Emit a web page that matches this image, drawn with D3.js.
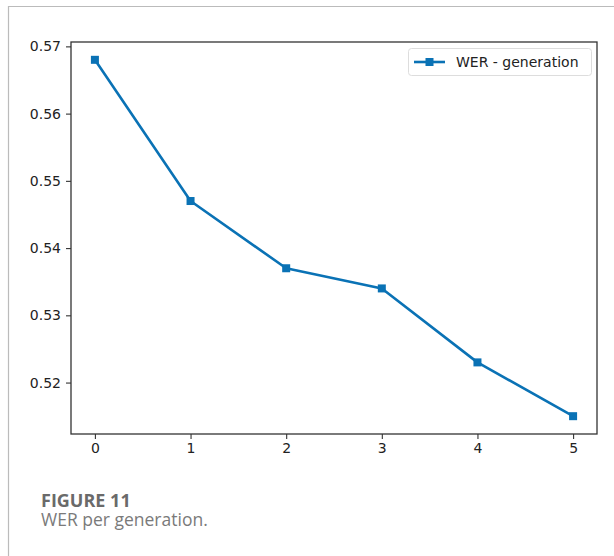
<!DOCTYPE html>
<html>
<head>
<meta charset="utf-8">
<script src="https://cdn.jsdelivr.net/npm/d3@7"></script>
<style>
	body { margin: 0; background: #fff; }
	svg { display: block; }
</style>
</head>
<body>
<main></main>
<script>
const generations = [0, 1, 2, 3, 4, 5]
const wer = [0.568, 0.547, 0.537, 0.534, 0.523, 0.515]
const yTicks = [0.52, 0.53, 0.54, 0.55, 0.56, 0.57]
const seriesName = 'WER - generation'
const captionTitle = 'FIGURE 11'
const captionText = 'WER per generation.'

const width = 614
const height = 556
const margin = { top: 42, right: 17, bottom: 122, left: 71 }
const color = '#0a72b5'
const axisColor = '#333'

const svg = d3.select('main')
	.append('svg')
	.attr('width', width)
	.attr('height', height)

// Frame around figure
svg.append('path')
	.attr('d', `M8.5,${height} V6.5 H${width}`)
	.attr('fill', 'none')
	.attr('stroke', '#bbb')
	.attr('stroke-width', 1.2)

// Scales (matplotlib style 5% padding)
const xScale = d3.scaleLinear()
	.domain([-0.25, 5.25])
	.range([margin.left, width - margin.right])

const yMin = d3.min(wer), yMax = d3.max(wer)
const pad = (yMax - yMin) * 0.05
const yScale = d3.scaleLinear()
	.domain([yMin - pad, yMax + pad])
	.range([height - margin.bottom, margin.top])

// X-Axis
const xAxis = d3.axisBottom(xScale)
	.tickValues(generations)
	.tickFormat(d3.format('d'))
	.tickSize(5)
	.tickPadding(4)

svg.append('g')
	.attr('transform', `translate(0,${height - margin.bottom})`)
	.call(xAxis)
	.call(g => g.select('.domain').remove())

// Y-Axis
const yAxis = d3.axisLeft(yScale)
	.tickValues(yTicks)
	.tickFormat(d3.format('.2f'))
	.tickSize(5)
	.tickPadding(5)

svg.append('g')
	.attr('transform', `translate(${margin.left},0)`)
	.call(yAxis)
	.call(g => g.select('.domain').remove())

svg.selectAll('.tick line')
	.attr('stroke', axisColor)
	.attr('stroke-width', 1.1)
svg.selectAll('.tick text')
	.attr('fill', '#222')
	.style('font-family', 'DejaVu Sans')
	.style('font-size', '14px')

// Axes box
svg.append('rect')
	.attr('x', margin.left)
	.attr('y', margin.top)
	.attr('width', width - margin.right - margin.left)
	.attr('height', height - margin.bottom - margin.top)
	.attr('fill', 'none')
	.attr('stroke', axisColor)
	.attr('stroke-width', 1.3)

// Line
const data = generations.map((g, i) => ({ g, v: wer[i] }))
const line = d3.line()
	.x(d => xScale(d.g))
	.y(d => yScale(d.v))

svg.append('path')
	.datum(data)
	.attr('d', line)
	.attr('fill', 'none')
	.attr('stroke', color)
	.attr('stroke-width', 2.6)
	.attr('stroke-linejoin', 'round')

svg.append('g')
	.selectAll('rect')
	.data(data)
	.enter()
	.append('rect')
	.attr('x', d => xScale(d.g) - 4)
	.attr('y', d => yScale(d.v) - 4)
	.attr('width', 8)
	.attr('height', 8)
	.attr('fill', color)

// Legend
const legend = svg.append('g')
	.attr('transform', 'translate(408,48)')

legend.append('rect')
	.attr('x', 0.5)
	.attr('y', 0.5)
	.attr('width', 183)
	.attr('height', 27)
	.attr('rx', 3)
	.attr('fill', '#fff')
	.attr('stroke', '#ddd')

legend.append('line')
	.attr('x1', 6)
	.attr('x2', 37)
	.attr('y1', 14)
	.attr('y2', 14)
	.attr('stroke', color)
	.attr('stroke-width', 2.6)

legend.append('rect')
	.attr('x', 17.5)
	.attr('y', 10)
	.attr('width', 8)
	.attr('height', 8)
	.attr('fill', color)

legend.append('text')
	.attr('x', 48)
	.attr('y', 19)
	.attr('fill', '#222')
	.style('font-family', 'DejaVu Sans')
	.style('font-size', '14px')
	.text(seriesName)

// Caption
svg.append('text')
	.attr('x', 41)
	.attr('y', 507)
	.attr('fill', '#6a6a6a')
	.style('font-family', 'Open Sans')
	.style('font-weight', 'bold')
	.style('font-size', '18px')
	.text(captionTitle)

svg.append('text')
	.attr('x', 41)
	.attr('y', 526)
	.attr('fill', '#7a7a7a')
	.style('font-family', 'Open Sans')
	.style('font-size', '17.5px')
	.text(captionText)
</script>
</body>
</html>
